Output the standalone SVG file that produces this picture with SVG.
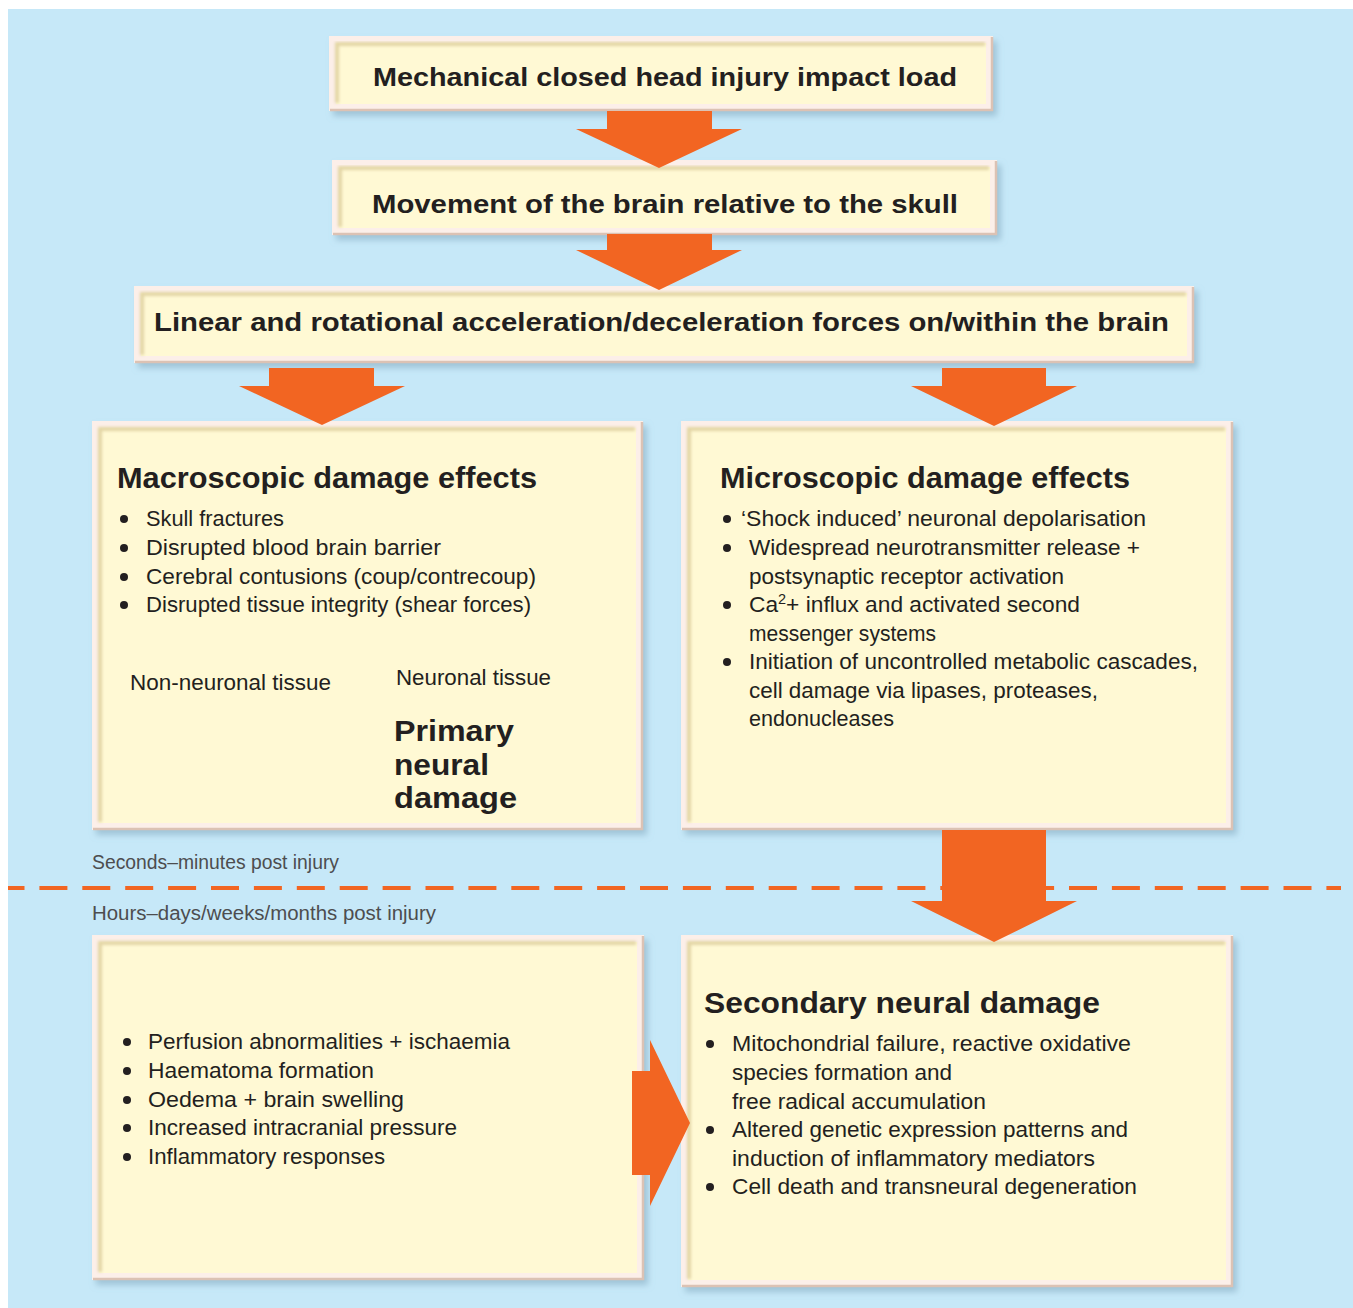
<svg xmlns="http://www.w3.org/2000/svg" width="1353" height="1308" viewBox="0 0 1353 1308">
<defs>
  <filter id="sh" x="-5%" y="-5%" width="115%" height="120%">
    <feDropShadow dx="4" dy="5" stdDeviation="3" flood-color="#7fa6bb" flood-opacity="0.55"/>
  </filter>
  <filter id="soft" x="-5%" y="-5%" width="110%" height="110%">
    <feGaussianBlur stdDeviation="1.6"/>
  </filter>
  <style>
    .outer{fill:#fcefe9;}
    .edge{fill:none;stroke:#dcc2b4;stroke-width:2.5;}
    .inner{fill:#fff9d4;}
    .inset{fill:none;stroke:#e3d5a6;stroke-width:4;}
    .arrow{fill:#f26522;}
    .dot{fill:#231f20;}
    text{font-family:"Liberation Sans",Arial,sans-serif;fill:#231f20;}
    .title{font-size:26px;font-weight:bold;}
    .head{font-size:29px;font-weight:bold;}
    .body{font-size:22px;}
    .time{font-size:20px;fill:#4d4d4f;}
    .dash{stroke:#f26522;stroke-width:4;stroke-dasharray:28 14.9;stroke-dashoffset:11.5;fill:none;}
  </style>
</defs>

<rect x="0" y="0" width="1353" height="1308" fill="#ffffff"/>
<rect x="8" y="9" width="1345" height="1299" fill="#c6e8f8"/>

<g id="timeline">
  <line class="dash" x1="8" y1="888" x2="1341" y2="888"/>
  <text class="time" x="92" y="869" textLength="247" lengthAdjust="spacingAndGlyphs">Seconds–minutes post injury</text>
  <text class="time" x="92" y="920" textLength="344" lengthAdjust="spacingAndGlyphs">Hours–days/weeks/months post injury</text>
</g>

<g id="box1">
  <rect class="outer" x="329" y="36" width="664" height="75" filter="url(#sh)"/>
  <path class="edge" d="M330,110 H992 V37"/>
  <rect class="inner" x="336" y="43" width="650" height="61"/>
  <path class="inset" d="M337,103 V44 H985" filter="url(#soft)"/>
  <text class="title" x="373" y="86" textLength="584" lengthAdjust="spacingAndGlyphs">Mechanical closed head injury impact load</text>
</g>

<g id="box2">
  <rect class="outer" x="332" y="160" width="665" height="75" filter="url(#sh)"/>
  <path class="edge" d="M333,234 H996 V161"/>
  <rect class="inner" x="339" y="167" width="651" height="61"/>
  <path class="inset" d="M340,227 V168 H989" filter="url(#soft)"/>
  <text class="title" x="372" y="213" textLength="586" lengthAdjust="spacingAndGlyphs">Movement of the brain relative to the skull</text>
</g>

<g id="box3">
  <rect class="outer" x="134" y="286" width="1060" height="77" filter="url(#sh)"/>
  <path class="edge" d="M135,362 H1193 V287"/>
  <rect class="inner" x="141" y="293" width="1046" height="63"/>
  <path class="inset" d="M142,355 V294 H1186" filter="url(#soft)"/>
  <text class="title" x="154" y="331" textLength="1015" lengthAdjust="spacingAndGlyphs">Linear and rotational acceleration/deceleration forces on/within the brain</text>
</g>

<g id="macro">
  <rect class="outer" x="92" y="421" width="551" height="409" filter="url(#sh)"/>
  <path class="edge" d="M93,829 H642 V422"/>
  <rect class="inner" x="99" y="428" width="537" height="395"/>
  <path class="inset" d="M100,822 V429 H635" filter="url(#soft)"/>
  <text class="head" x="117" y="488" textLength="420" lengthAdjust="spacingAndGlyphs">Macroscopic damage effects</text>
  <circle class="dot" cx="124" cy="519" r="4"/>
  <text class="body" x="146" y="526" textLength="138" lengthAdjust="spacingAndGlyphs">Skull fractures</text>
  <circle class="dot" cx="124" cy="548" r="4"/>
  <text class="body" x="146" y="555" textLength="295" lengthAdjust="spacingAndGlyphs">Disrupted blood brain barrier</text>
  <circle class="dot" cx="124" cy="577" r="4"/>
  <text class="body" x="146" y="584" textLength="390" lengthAdjust="spacingAndGlyphs">Cerebral contusions (coup/contrecoup)</text>
  <circle class="dot" cx="124" cy="605" r="4"/>
  <text class="body" x="146" y="612" textLength="385" lengthAdjust="spacingAndGlyphs">Disrupted tissue integrity (shear forces)</text>
  <text class="body" x="130" y="690" textLength="201" lengthAdjust="spacingAndGlyphs">Non-neuronal tissue</text>
  <text class="body" x="396" y="685" textLength="155" lengthAdjust="spacingAndGlyphs">Neuronal tissue</text>
  <text class="head" x="394" y="741" textLength="120" lengthAdjust="spacingAndGlyphs">Primary</text>
  <text class="head" x="394" y="775" textLength="95" lengthAdjust="spacingAndGlyphs">neural</text>
  <text class="head" x="394" y="808" textLength="123" lengthAdjust="spacingAndGlyphs">damage</text>
</g>

<g id="micro">
  <rect class="outer" x="681" y="421" width="552" height="409" filter="url(#sh)"/>
  <path class="edge" d="M682,829 H1232 V422"/>
  <rect class="inner" x="688" y="428" width="538" height="395"/>
  <path class="inset" d="M689,822 V429 H1225" filter="url(#soft)"/>
  <text class="head" x="720" y="488" textLength="410" lengthAdjust="spacingAndGlyphs">Microscopic damage effects</text>
  <circle class="dot" cx="727" cy="519" r="4"/>
  <text class="body" x="741" y="526" textLength="405" lengthAdjust="spacingAndGlyphs">‘Shock induced’ neuronal depolarisation</text>
  <circle class="dot" cx="727" cy="548" r="4"/>
  <text class="body" x="749" y="555" textLength="391" lengthAdjust="spacingAndGlyphs">Widespread neurotransmitter release +</text>
  <text class="body" x="749" y="584" textLength="315" lengthAdjust="spacingAndGlyphs">postsynaptic receptor activation</text>
  <circle class="dot" cx="727" cy="605" r="4"/>
  <text class="body" x="749" y="612" textLength="331" lengthAdjust="spacingAndGlyphs">Ca<tspan font-size="14" dy="-8">2</tspan><tspan dy="8">+ influx and activated second</tspan></text>
  <text class="body" x="749" y="641" textLength="187" lengthAdjust="spacingAndGlyphs">messenger systems</text>
  <circle class="dot" cx="727" cy="662" r="4"/>
  <text class="body" x="749" y="669" textLength="449" lengthAdjust="spacingAndGlyphs">Initiation of uncontrolled metabolic cascades,</text>
  <text class="body" x="749" y="698" textLength="349" lengthAdjust="spacingAndGlyphs">cell damage via lipases, proteases,</text>
  <text class="body" x="749" y="726" textLength="145" lengthAdjust="spacingAndGlyphs">endonucleases</text>
</g>

<g id="consequences">
  <rect class="outer" x="92" y="935" width="552" height="345" filter="url(#sh)"/>
  <path class="edge" d="M93,1279 H643 V936"/>
  <rect class="inner" x="99" y="942" width="538" height="331"/>
  <path class="inset" d="M100,1272 V943 H636" filter="url(#soft)"/>
  <circle class="dot" cx="127" cy="1042" r="4"/>
  <text class="body" x="148" y="1049" textLength="362" lengthAdjust="spacingAndGlyphs">Perfusion abnormalities + ischaemia</text>
  <circle class="dot" cx="127" cy="1071" r="4"/>
  <text class="body" x="148" y="1078" textLength="226" lengthAdjust="spacingAndGlyphs">Haematoma formation</text>
  <circle class="dot" cx="127" cy="1100" r="4"/>
  <text class="body" x="148" y="1107" textLength="256" lengthAdjust="spacingAndGlyphs">Oedema + brain swelling</text>
  <circle class="dot" cx="127" cy="1128" r="4"/>
  <text class="body" x="148" y="1135" textLength="309" lengthAdjust="spacingAndGlyphs">Increased intracranial pressure</text>
  <circle class="dot" cx="127" cy="1157" r="4"/>
  <text class="body" x="148" y="1164" textLength="237" lengthAdjust="spacingAndGlyphs">Inflammatory responses</text>
</g>

<g id="secondary">
  <rect class="outer" x="681" y="935" width="552" height="352" filter="url(#sh)"/>
  <path class="edge" d="M682,1286 H1232 V936"/>
  <rect class="inner" x="688" y="942" width="538" height="338"/>
  <path class="inset" d="M689,1279 V943 H1225" filter="url(#soft)"/>
  <text class="head" x="704" y="1013" textLength="396" lengthAdjust="spacingAndGlyphs">Secondary neural damage</text>
  <circle class="dot" cx="710" cy="1044" r="4"/>
  <text class="body" x="732" y="1051" textLength="399" lengthAdjust="spacingAndGlyphs">Mitochondrial failure, reactive oxidative</text>
  <text class="body" x="732" y="1080" textLength="220" lengthAdjust="spacingAndGlyphs">species formation and</text>
  <text class="body" x="732" y="1109" textLength="254" lengthAdjust="spacingAndGlyphs">free radical accumulation</text>
  <circle class="dot" cx="710" cy="1130" r="4"/>
  <text class="body" x="732" y="1137" textLength="396" lengthAdjust="spacingAndGlyphs">Altered genetic expression patterns and</text>
  <text class="body" x="732" y="1166" textLength="363" lengthAdjust="spacingAndGlyphs">induction of inflammatory mediators</text>
  <circle class="dot" cx="710" cy="1187" r="4"/>
  <text class="body" x="732" y="1194" textLength="405" lengthAdjust="spacingAndGlyphs">Cell death and transneural degeneration</text>
</g>

<g id="connectors">
  <polygon class="arrow" points="607,111 712,111 712,129 742,129 659,168 576,129 607,129"/>
  <polygon class="arrow" points="607,234 712,234 712,250 742,250 659,290 576,250 607,250"/>
  <polygon class="arrow" points="269,368 374,368 374,386 405,386 322,425 239,386 269,386"/>
  <polygon class="arrow" points="942,368 1046,368 1046,386 1077,386 994,426 911,386 942,386"/>
  <polygon class="arrow" points="942,830 1046,830 1046,901 1077,901 994,942 911,901 942,901"/>
  <polygon class="arrow" points="632,1071 650,1071 650,1040 690,1123 650,1206 650,1175 632,1175"/>
</g>
</svg>
